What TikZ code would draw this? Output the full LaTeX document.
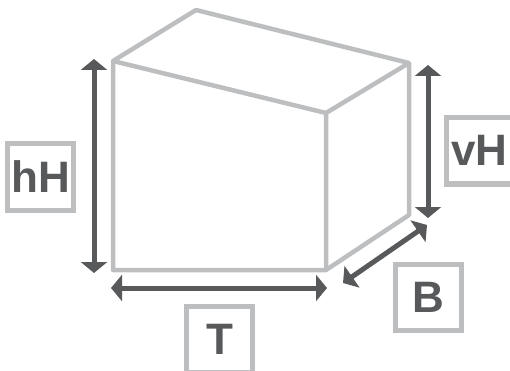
\documentclass[tikz,border=0pt]{standalone}
\usepackage{fontspec}
\setmainfont{Liberation Sans}
\usetikzlibrary{arrows.meta}
\definecolor{edgegray}{HTML}{BCBEC0}
\definecolor{markgray}{HTML}{58595B}
\tikzset{
    edge/.style={draw=edgegray,line width=4.5pt,line join=round},
    size/.style={<->,>={Triangle[length=11pt,width=26pt]},draw=markgray,line width=5pt},
    tag/.style={draw=edgegray,fill=white,line width=5pt,minimum size=66pt,inner sep=0pt,text=markgray,font=\fontsize{44}{44}\selectfont\bfseries}
}

\begin{document}
\begin{tikzpicture}[x=1pt,y=-1pt]

                \useasboundingbox (0,0) rectangle (510,371);

                \coordinate (front top left)     at (113,61);
                \coordinate (back top)           at (196,10);
                \coordinate (back top right)     at (409,63);
                \coordinate (front top right)    at (326,113);
                \coordinate (front bottom left)  at (113,270);
                \coordinate (front bottom right) at (326,270);
                \coordinate (back bottom right)  at (409,215);

                \draw[edge] (front top left) -- (back top) -- (back top right) -- (back bottom right)
                    -- (front bottom right) -- (front bottom left) -- cycle;
                \draw[edge] (front top left) -- (front top right) -- (front bottom right);
                \draw[edge] (front top right) -- (back top right);

                \coordinate (hH top)    at (94,59);
                \coordinate (hH bottom) at (94,273);
                \coordinate (vH top)    at (428,65);
                \coordinate (vH bottom) at (428,218);
                \coordinate (T left)    at (111,288);
                \coordinate (T right)   at (327,288);
                \coordinate (B left)    at (343,283);
                \coordinate (B right)   at (427,225);

                \draw[size] (hH top) -- (hH bottom);
                \draw[size] (vH top) -- (vH bottom);
                \draw[size] (T left) -- (T right);
                \draw[size] (B left) -- (B right);

                \node[tag] (hH) at (40.5,177) {hH};
                \node[tag] (vH) at (479.5,151) {\raisebox{1.5pt}{vH}};
                \node[tag] (T)  at (219.5,339.5) {T};
                \node[tag] (B)  at (428,297) {B};

\end{tikzpicture}
\end{document}
